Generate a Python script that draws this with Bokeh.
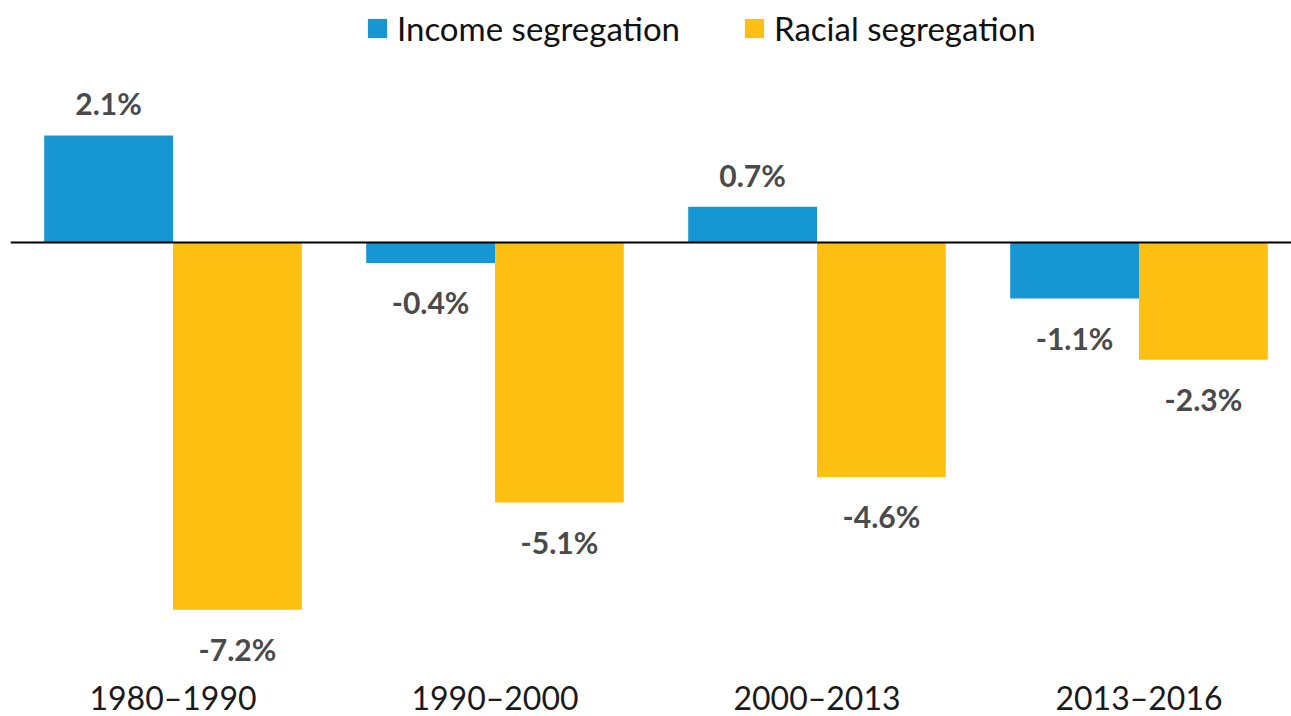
from bokeh.plotting import figure
from bokeh.models import ColumnDataSource, Range1d, Legend, LegendItem
from bokeh.core.properties import value
from bokeh.embed import file_html
from bokeh.resources import INLINE

periods = ["1980–1990", "1990–2000", "2000–2013", "2013–2016"]
income = [2.1, -0.4, 0.7, -1.1]
racial = [-7.2, -5.1, -4.6, -2.3]
series_names = ["Income segregation", "Racial segregation"]
colors = ["#1696d2", "#fdbf11"]

W, H = 1291, 716
PX_PER_UNIT = 51.0
ZERO_PX = 242.0
GROUP_PX = 322.0
LEFT_PX = 10.0
FIRST_CENTER_PX = 172.5

x0 = -(FIRST_CENTER_PX - LEFT_PX) / GROUP_PX
x1 = x0 + (W - LEFT_PX) / GROUP_PX
y1 = ZERO_PX / PX_PER_UNIT
y0 = -(H - ZERO_PX) / PX_PER_UNIT

p = figure(width=W, height=H, output_backend="svg", toolbar_location=None,
           x_range=Range1d(x0, x1), y_range=Range1d(y0, y1),
           min_border_left=int(LEFT_PX), min_border_right=0, min_border_top=0, min_border_bottom=0)
p.axis.visible = False
p.grid.visible = False
p.outline_line_color = None
p.background_fill_color = "white"
p.border_fill_color = "white"

xs = list(range(len(periods)))
bw = 0.4
def lab_y(vals):
    return [v + 0.63 if v >= 0 else v - 0.77 for v in vals]

src_i = ColumnDataSource(dict(x=[x - bw / 2 for x in xs], top=income,
                              ly=lab_y(income), lab=[f"{v:.1f}%" for v in income]))
src_r = ColumnDataSource(dict(x=[x + bw / 2 for x in xs], top=racial,
                              ly=lab_y(racial), lab=[f"{v:.1f}%" for v in racial]))

r_i = p.vbar(x="x", top="top", bottom=0, width=bw, source=src_i,
             fill_color=colors[0], line_color=None)
r_r = p.vbar(x="x", top="top", bottom=0, width=bw, source=src_r,
             fill_color=colors[1], line_color=None)

# zero line
p.segment(x0=[x0], y0=[0], x1=[x1], y1=[0], line_color="black", line_width=2)

for s in (src_i, src_r):
    p.text(x="x", y="ly", text="lab", source=s, text_align="center",
           text_baseline="middle", text_font=value("Lato"), text_font_style="bold",
           text_font_size="30px", text_color="#4a4a4a")

cat_src = ColumnDataSource(dict(x=xs, y=[-8.93] * len(xs), t=periods))
p.text(x="x", y="y", text="t", source=cat_src, text_align="center",
       text_baseline="middle", text_font=value("Lato"), text_font_size="32px",
       text_color="#1a1a1a")

legend = Legend(items=[LegendItem(label=series_names[0], renderers=[r_i]),
                       LegendItem(label=series_names[1], renderers=[r_r])],
                orientation="horizontal", location=(355, H - 48),
                label_text_font="Lato", label_text_font_size="33px",
                label_text_color="#111111", glyph_width=24, glyph_height=24,
                label_standoff=8, spacing=62, padding=0, margin=0,
                border_line_color=None, background_fill_alpha=0)
p.add_layout(legend)

open("out.html", "w").write(file_html(p, INLINE))
